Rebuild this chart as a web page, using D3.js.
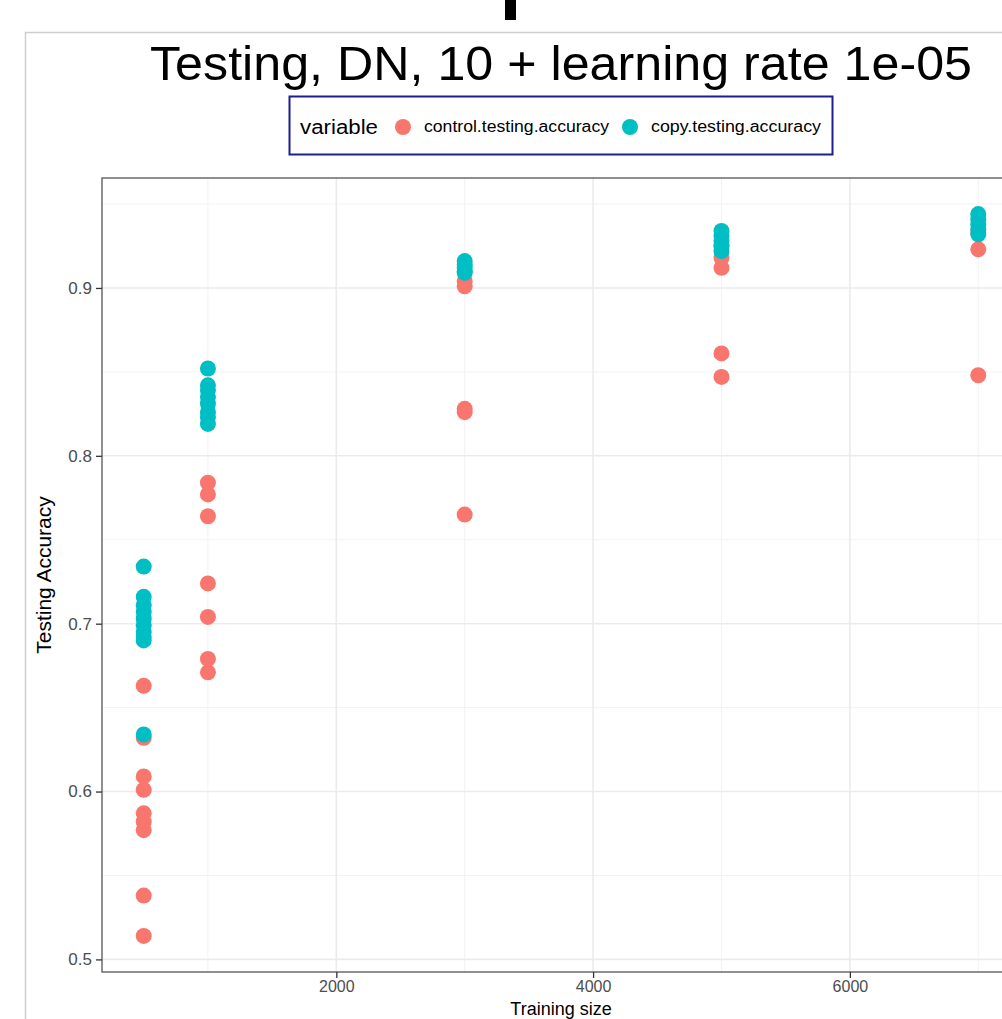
<!DOCTYPE html>
<html>
<head>
<meta charset="utf-8">
<script src="https://cdn.jsdelivr.net/npm/d3@7"></script>
<style>
  body { margin: 0; background: #fff; }
  svg { display: block; font-family: "Liberation Sans", Arial, sans-serif; }
</style>
</head>
<body>
<div id="chart-area"></div>
<script>
// training sizes on the x axis
const trainingSize = [500, 1000, 3000, 5000, 7000]

// accuracy readings per training size (same order as trainingSize)
const controlAcc = [
  [0.663, 0.632, 0.609, 0.601, 0.587, 0.582, 0.577, 0.538, 0.514],
  [0.784, 0.777, 0.764, 0.724, 0.704, 0.679, 0.671],
  [0.904, 0.901, 0.828, 0.826, 0.765],
  [0.925, 0.918, 0.912, 0.861, 0.847],
  [0.933, 0.923, 0.848]
]
const copyAcc = [
  [0.734, 0.716, 0.711, 0.707, 0.703, 0.699, 0.695, 0.692, 0.690, 0.634],
  [0.852, 0.842, 0.839, 0.835, 0.831, 0.826, 0.823, 0.819],
  [0.916, 0.914, 0.912, 0.910, 0.909],
  [0.934, 0.931, 0.928, 0.925, 0.922],
  [0.944, 0.941, 0.938, 0.935, 0.932]
]

const seriesNames = ["control.testing.accuracy", "copy.testing.accuracy"]
const seriesColors = ["#F8766D", "#00BFC4"]

const xMajor = [2000, 4000, 6000]
const xMinor = [1000, 3000, 5000, 7000]
const yMajor = [0.5, 0.6, 0.7, 0.8, 0.9]
const yMinor = [0.55, 0.65, 0.75, 0.85, 0.95]

// long format, control drawn first then copy (like ggplot melt order)
const points = []
;[controlAcc, copyAcc].forEach((groups, s) => {
  groups.forEach((vals, i) => {
    vals.forEach(v => points.push({ size: trainingSize[i], acc: v, variable: seriesNames[s] }))
  })
})

const W = 1002, H = 1019
const PANEL = { LEFT: 102, RIGHT: 1020, TOP: 178, BOTTOM: 972 }

const svg = d3.select("#chart-area").append("svg")
  .attr("width", W)
  .attr("height", H)

// outer frame + the stray bar on top
svg.append("rect").attr("x", 505).attr("y", 0).attr("width", 11).attr("height", 20).attr("fill", "#000")
svg.append("path")
  .attr("d", `M25.5,${H + 5} L25.5,32.5 L${W + 5},32.5`)
  .attr("fill", "none").attr("stroke", "#cfcfcf").attr("stroke-width", 1.5)

// scales, ggplot style 5% expansion
const xExt = d3.extent(points, d => d.size)
const yExt = d3.extent(points, d => d.acc)
const xPad = (xExt[1] - xExt[0]) * 0.05
const yPad = (yExt[1] - yExt[0]) * 0.05
const x = d3.scaleLinear()
  .domain([xExt[0] - xPad, xExt[1] + xPad])
  .range([PANEL.LEFT, PANEL.RIGHT])
const y = d3.scaleLinear()
  .domain([yExt[0] - yPad, yExt[1] + yPad])
  .range([PANEL.BOTTOM, PANEL.TOP])

const panel = svg.append("g")

//minor grid
panel.selectAll(".xminor").data(xMinor).enter().append("line")
  .attr("x1", d => x(d)).attr("x2", d => x(d))
  .attr("y1", PANEL.TOP).attr("y2", PANEL.BOTTOM)
  .attr("stroke", "#f2f2f2").attr("stroke-width", 1)
panel.selectAll(".yminor").data(yMinor).enter().append("line")
  .attr("x1", PANEL.LEFT).attr("x2", PANEL.RIGHT)
  .attr("y1", d => y(d)).attr("y2", d => y(d))
  .attr("stroke", "#f2f2f2").attr("stroke-width", 1)
//major grid
panel.selectAll(".xmajor").data(xMajor).enter().append("line")
  .attr("x1", d => x(d)).attr("x2", d => x(d))
  .attr("y1", PANEL.TOP).attr("y2", PANEL.BOTTOM)
  .attr("stroke", "#ebebeb").attr("stroke-width", 1.6)
panel.selectAll(".ymajor").data(yMajor).enter().append("line")
  .attr("x1", PANEL.LEFT).attr("x2", PANEL.RIGHT)
  .attr("y1", d => y(d)).attr("y2", d => y(d))
  .attr("stroke", "#ebebeb").attr("stroke-width", 1.6)

// points
const color = d3.scaleOrdinal().domain(seriesNames).range(seriesColors)
panel.selectAll("circle").data(points).enter().append("circle")
  .attr("cx", d => x(d.size))
  .attr("cy", d => y(d.acc))
  .attr("r", 8)
  .attr("fill", d => color(d.variable))

// panel border
svg.append("rect")
  .attr("x", PANEL.LEFT).attr("y", PANEL.TOP)
  .attr("width", PANEL.RIGHT - PANEL.LEFT).attr("height", PANEL.BOTTOM - PANEL.TOP)
  .attr("fill", "none").attr("stroke", "#555").attr("stroke-width", 1.3)

// axes
const xAxisCall = d3.axisBottom(x).tickValues(xMajor).tickSize(6).tickPadding(3).tickFormat(d3.format("d"))
const xAxis = svg.append("g")
  .attr("transform", `translate(0, ${PANEL.BOTTOM})`)
  .call(xAxisCall)
xAxis.select(".domain").remove()
xAxis.selectAll("line").attr("stroke", "#333").attr("stroke-width", 1.3)
xAxis.selectAll("text").attr("fill", "#4d4d4d").attr("font-size", "16px").attr("font-family", "Liberation Sans, Arial, sans-serif")

const yAxisCall = d3.axisLeft(y).tickValues(yMajor).tickSize(6).tickPadding(4).tickFormat(d3.format(".1f"))
const yAxis = svg.append("g")
  .attr("transform", `translate(${PANEL.LEFT}, 0)`)
  .call(yAxisCall)
yAxis.select(".domain").remove()
yAxis.selectAll("line").attr("stroke", "#333").attr("stroke-width", 1.3)
yAxis.selectAll("text").attr("fill", "#4d4d4d").attr("font-size", "17px").attr("font-family", "Liberation Sans, Arial, sans-serif")

// axis titles
svg.append("text")
  .attr("x", 561).attr("y", 1015)
  .attr("text-anchor", "middle").attr("font-size", "18px")
  .text("Training size")
svg.append("text")
  .attr("transform", "translate(51, 575) rotate(-90)")
  .attr("text-anchor", "middle").attr("font-size", "21px")
  .text("Testing Accuracy")

// title
svg.append("text")
  .attr("x", 561).attr("y", 80)
  .attr("text-anchor", "middle").attr("font-size", "49px")
  .attr("textLength", 822).attr("lengthAdjust", "spacingAndGlyphs")
  .text("Testing, DN, 10 + learning rate 1e-05")

// legend
const legend = svg.append("g")
legend.append("rect")
  .attr("x", 289.5).attr("y", 96.5).attr("width", 543).attr("height", 58)
  .attr("fill", "#fff").attr("stroke", "#1c1f8c").attr("stroke-width", 2)
legend.append("text")
  .attr("x", 300).attr("y", 134)
  .attr("font-size", "20px")
  .attr("textLength", 78).attr("lengthAdjust", "spacingAndGlyphs")
  .text("variable")
const legendX = [403, 630]
const legendW = [185, 170]
seriesNames.forEach((name, i) => {
  legend.append("circle").attr("cx", legendX[i]).attr("cy", 127).attr("r", 8).attr("fill", seriesColors[i])
  legend.append("text")
    .attr("x", legendX[i] + 21).attr("y", 132)
    .attr("font-size", "16px")
    .attr("textLength", legendW[i]).attr("lengthAdjust", "spacingAndGlyphs")
    .text(name)
})
</script>
</body>
</html>
